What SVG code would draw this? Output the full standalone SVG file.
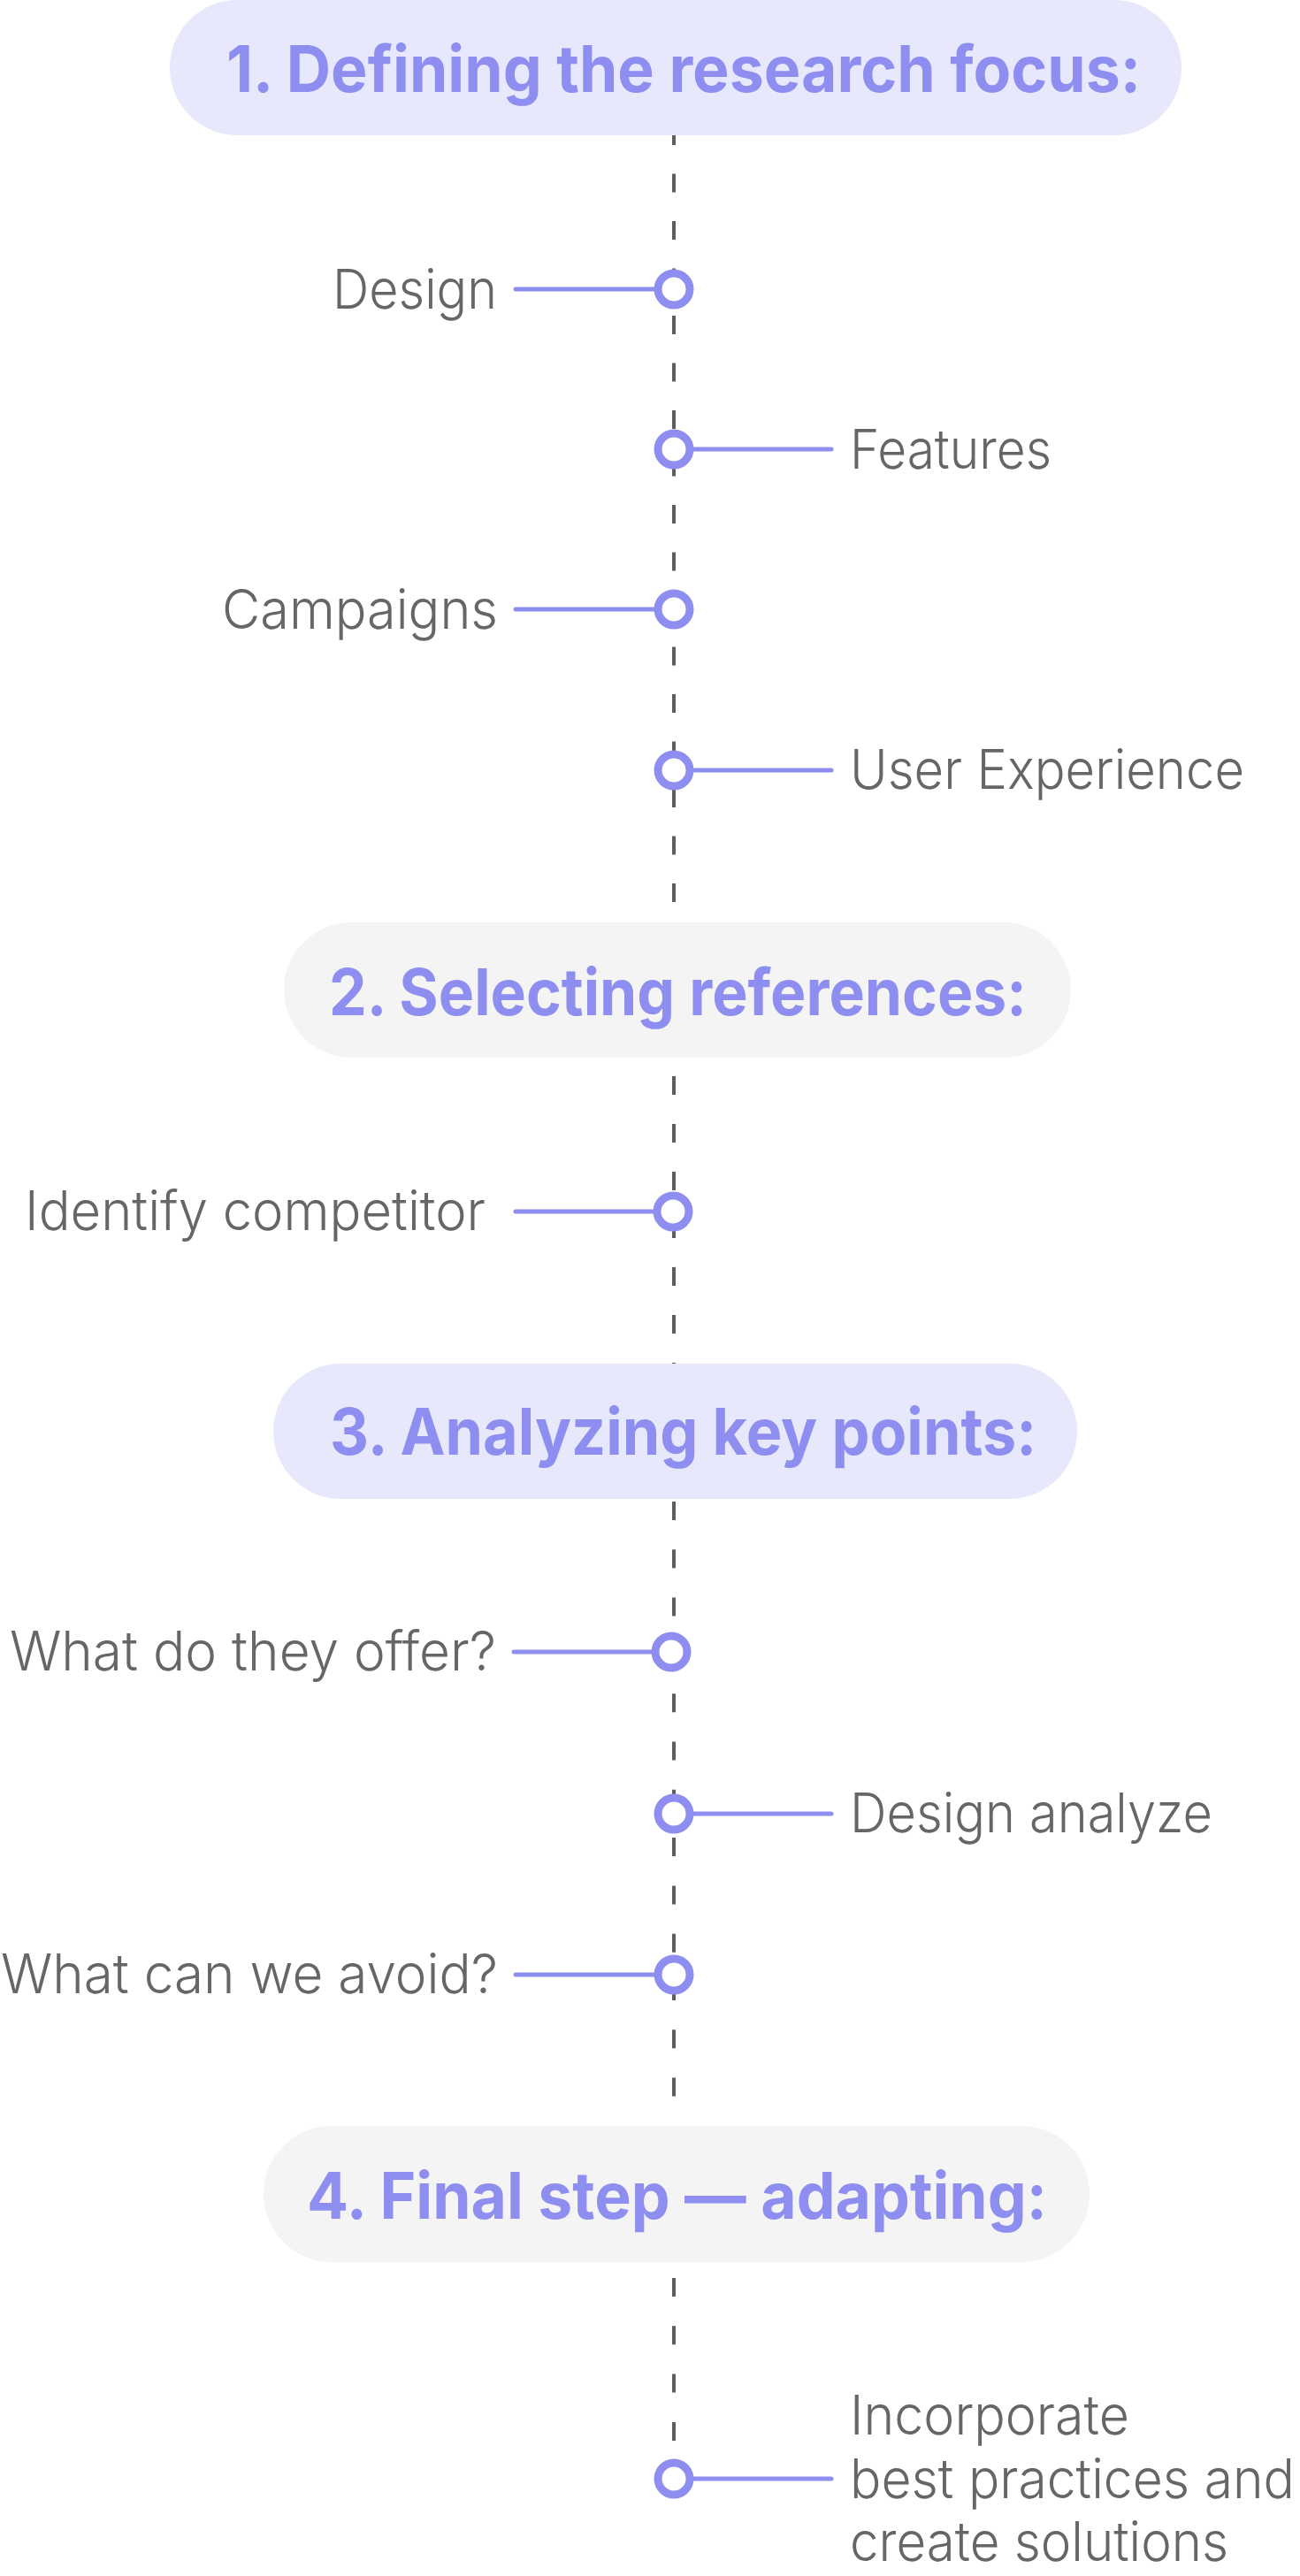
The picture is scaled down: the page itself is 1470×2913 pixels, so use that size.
<svg xmlns="http://www.w3.org/2000/svg" width="1470" height="2913" viewBox="0 0 1470 2913">
<style>
.pill-a{fill:#E7E8FB}
.pill-b{fill:#F4F4F4}
.title{font-family:Inter,"Noto Sans",sans-serif;font-weight:700;font-size:73px;fill:#8E8EF0}
.lbl{font-family:Inter,"Noto Sans",sans-serif;font-weight:300;font-size:62px;fill:#666666}
.dash{stroke:#5E5E5E;stroke-width:4;fill:none}
.link{stroke:#8E8EF0;stroke-width:5;stroke-linecap:round;fill:none}
.dot{fill:#FFFFFF;stroke:#8E8EF0;stroke-width:9}
</style>
<rect width="1470" height="2913" fill="#FFFFFF"/>
<g id="connectors">
<line class="dash" x1="762" y1="143" x2="762" y2="1043" stroke-dasharray="21 32.5"/>
<line class="dash" x1="762" y1="1217" x2="762" y2="1542" stroke-dasharray="21 33"/>
<line class="dash" x1="762" y1="1698" x2="762" y2="2404" stroke-dasharray="21 33.3"/>
<line class="dash" x1="762" y1="2576" x2="762" y2="2790" stroke-dasharray="21 33.3"/>
<line class="link" x1="583" y1="327" x2="750" y2="327"/>
<line class="link" x1="774" y1="508" x2="940" y2="508"/>
<line class="link" x1="583" y1="689" x2="750" y2="689"/>
<line class="link" x1="774" y1="871" x2="940" y2="871"/>
<line class="link" x1="583" y1="1370" x2="750" y2="1370"/>
<line class="link" x1="581" y1="1868" x2="748" y2="1868"/>
<line class="link" x1="774" y1="2051" x2="940" y2="2051"/>
<line class="link" x1="583" y1="2233" x2="750" y2="2233"/>
<line class="link" x1="774" y1="2803" x2="940" y2="2803"/>
</g>
<g id="step1">
<rect class="pill-a" x="192" y="0" width="1144" height="153" rx="76.5"/>
<text class="title" x="256" y="104" textLength="1034" lengthAdjust="spacingAndGlyphs">1. Defining the research focus:</text>
</g>
<g id="design">
<circle class="dot" cx="762" cy="327" r="18"/>
<text class="lbl" x="562" y="349" text-anchor="end" textLength="186" lengthAdjust="spacingAndGlyphs">Design</text>
</g>
<g id="features">
<circle class="dot" cx="762" cy="508" r="18"/>
<text class="lbl" x="961" y="530" textLength="228" lengthAdjust="spacingAndGlyphs">Features</text>
</g>
<g id="campaigns">
<circle class="dot" cx="762" cy="689" r="18"/>
<text class="lbl" x="563" y="711" text-anchor="end" textLength="312" lengthAdjust="spacingAndGlyphs">Campaigns</text>
</g>
<g id="user-experience">
<circle class="dot" cx="762" cy="871" r="18"/>
<text class="lbl" x="961" y="892" textLength="446" lengthAdjust="spacingAndGlyphs">User Experience</text>
</g>
<g id="step2">
<rect class="pill-b" x="321" y="1043" width="890" height="153" rx="76.5"/>
<text class="title" x="372" y="1148" textLength="789" lengthAdjust="spacingAndGlyphs">2. Selecting references:</text>
</g>
<g id="identify-competitor">
<circle class="dot" cx="761" cy="1370" r="18"/>
<text class="lbl" x="28" y="1391" textLength="521" lengthAdjust="spacingAndGlyphs">Identify competitor</text>
</g>
<g id="step3">
<rect class="pill-a" x="309" y="1542" width="909" height="153" rx="76.5"/>
<text class="title" x="373" y="1645" textLength="799" lengthAdjust="spacingAndGlyphs">3. Analyzing key points:</text>
</g>
<g id="what-offer">
<circle class="dot" cx="759" cy="1868" r="18"/>
<text class="lbl" x="11" y="1889" textLength="550" lengthAdjust="spacingAndGlyphs">What do they offer?</text>
</g>
<g id="design-analyze">
<circle class="dot" cx="762" cy="2051" r="18"/>
<text class="lbl" x="961" y="2072" textLength="410" lengthAdjust="spacingAndGlyphs">Design analyze</text>
</g>
<g id="what-avoid">
<circle class="dot" cx="762" cy="2233" r="18"/>
<text class="lbl" x="1" y="2254" textLength="562" lengthAdjust="spacingAndGlyphs">What can we avoid?</text>
</g>
<g id="step4">
<rect class="pill-b" x="298" y="2404" width="934" height="154" rx="77"/>
<text class="title" x="347" y="2509" textLength="837" lengthAdjust="spacingAndGlyphs">4. Final step — adapting:</text>
</g>
<g id="incorporate">
<circle class="dot" cx="762" cy="2803" r="18"/>
<text class="lbl" x="961" y="2753" textLength="316" lengthAdjust="spacingAndGlyphs">Incorporate</text>
<text class="lbl" x="961" y="2825" textLength="503" lengthAdjust="spacingAndGlyphs">best practices and</text>
<text class="lbl" x="961" y="2896" textLength="428" lengthAdjust="spacingAndGlyphs">create solutions</text>
</g>
</svg>
